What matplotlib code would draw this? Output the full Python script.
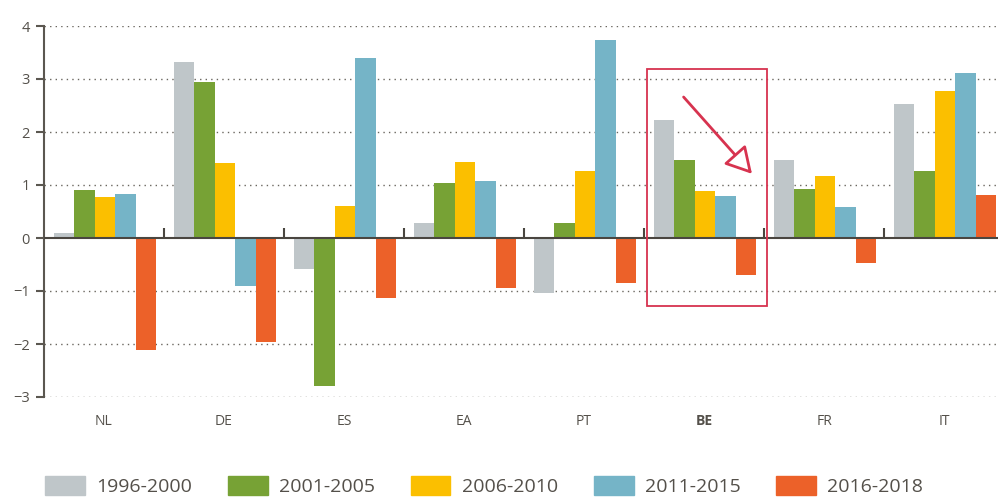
import numpy as np
import matplotlib.pyplot as plt
from matplotlib.patches import Patch, Rectangle

plt.rcParams['font.family'] = ['Open Sans', 'DejaVu Sans']

countries = ['NL', 'DE', 'ES', 'EA', 'PT', 'BE', 'FR', 'IT']
periods = ['1996-2000', '2001-2005', '2006-2010', '2011-2015', '2016-2018']
v_1996 = [0.09, 3.33, -0.58, 0.28, -1.03, 2.23, 1.47, 2.52]
v_2001 = [0.91, 2.95, -2.80, 1.04, 0.28, 1.47, 0.92, 1.26]
v_2006 = [0.77, 1.42, 0.60, 1.44, 1.26, 0.89, 1.17, 2.78]
v_2011 = [0.83, -0.90, 3.40, 1.07, 3.73, 0.79, 0.58, 3.12]
v_2016 = [-2.11, -1.96, -1.13, -0.95, -0.85, -0.70, -0.47, 0.81]
series = [v_1996, v_2001, v_2006, v_2011, v_2016]
colors = ['#bfc6c9', '#77a235', '#fbbf00', '#75b4c7', '#ec6129']
yticks = [-3, -2, -1, 0, 1, 2, 3, 4]

txt = '#54504a'
red = '#d7334f'

fig = plt.figure(figsize=(9.98, 4.99), dpi=100)
ax = fig.add_axes([44 / 998, (499 - 397) / 499, 954 / 998, 371 / 499])

x = np.arange(len(countries))
off = 10 / 120
w = 20.4 / 120
for k, (vals, c) in enumerate(zip(series, colors)):
    ax.bar(x + off + k * w, vals, width=w, align='edge', color=c, zorder=2)

# gridlines
for t in yticks:
    if t != 0:
        ax.axhline(t, color='#6a665f', lw=1, ls=(0, (1, 3)), zorder=1)
ax.axhline(0, color='#4a4640', lw=1.5, zorder=3)
ax.vlines(x[1:], 0, 0.19, color='#4a4640', lw=1.5, zorder=3)

ax.set_xlim(0, 7.95)
ax.set_ylim(-3, 4)
ax.set_yticks(yticks)
ax.set_yticklabels(['\u22123', '\u22122', '\u22121', '0', '1', '2', '3', '4'])
ax.set_xticks(x + 0.5)
ax.set_xticklabels(countries)
for lab in ax.get_xticklabels():
    if lab.get_text() == 'BE':
        lab.set_fontweight('bold')
ax.tick_params(axis='x', length=0, pad=12, labelsize=10, colors=txt)
ax.tick_params(axis='y', length=6, width=1.5, color='#5b5750', pad=4,
               labelsize=10.5, labelcolor=txt)
for s in ['top', 'right', 'bottom']:
    ax.spines[s].set_visible(False)
ax.spines['left'].set_color('#5b5750')
ax.spines['left'].set_linewidth(1.5)

# highlight box and arrow
ax.add_patch(Rectangle((5.025, -1.28), 1.0, 4.47, fill=False, ec=red,
                       lw=1.3, zorder=4, clip_on=False))
ax.annotate('', xy=(5.9, 1.21), xytext=(5.33, 2.66),
            arrowprops=dict(arrowstyle='-|>,head_length=0.8,head_width=0.45',
                            fc='white', ec=red, lw=2, mutation_scale=20,
                            shrinkA=0, shrinkB=0),
            zorder=5)

handles = [Patch(color=c) for c in colors]
fig.legend(handles, periods, loc='lower left', bbox_to_anchor=(0.045, 0.006),
           ncol=5, frameon=False, fontsize=14, labelcolor=txt,
           borderpad=0, borderaxespad=0,
           handlelength=2.05, handleheight=1.15, handletextpad=0.57,
           columnspacing=1.85)

fig.savefig('out.png', dpi=100)
